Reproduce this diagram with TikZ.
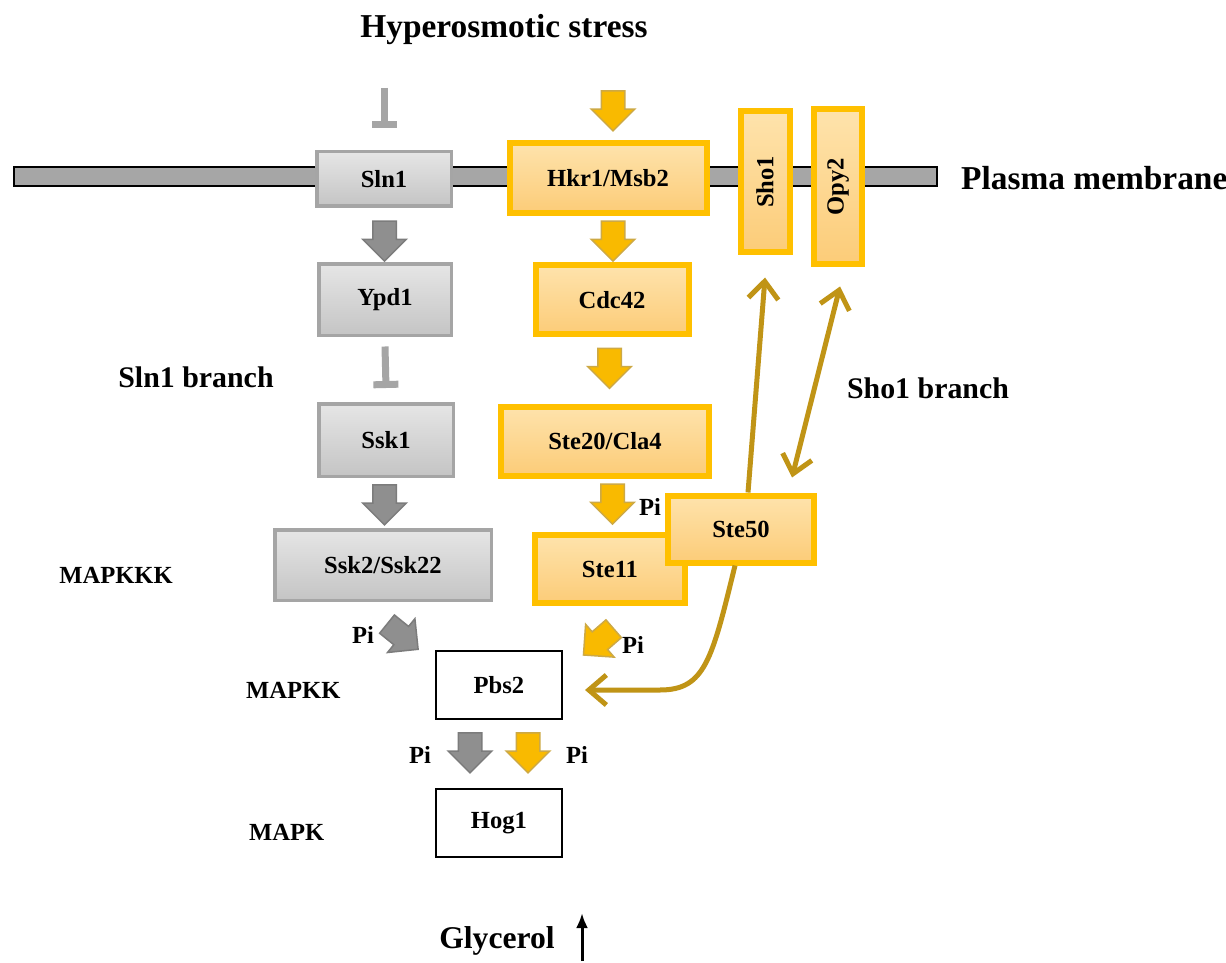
\documentclass[tikz,border=0pt]{standalone}
\usepackage{fontspec}
\setmainfont{Liberation Serif}
\usepackage{graphicx}
\usetikzlibrary{arrows.meta, positioning, calc, shapes.arrows}
\definecolor{hogGrey}{HTML}{A5A5A5}
\definecolor{hogGreyArr}{HTML}{8F8F8F}
\definecolor{hogGreyDk}{HTML}{7C7C7C}
\definecolor{hogMemb}{HTML}{A6A6A6}
\definecolor{hogGold}{HTML}{FFC000}
\definecolor{hogGoldArr}{HTML}{F9BA00}
\definecolor{hogGoldDk}{HTML}{C09416}
\definecolor{hogPaleTop}{HTML}{FEE3AC}
\definecolor{hogPaleBot}{HTML}{FCCC78}

\begin{document}
\begin{tikzpicture}[
  x=0.2mm, y=-0.2mm,
  font=\bfseries\fontsize{14}{16}\selectfont,
  >={Straight Barb[length=3.5mm, width=6mm]},
  sz/.style 2 args={minimum width=#1*0.2mm, minimum height=#2*0.2mm},
  gbox/.style={draw=hogGrey, line width=0.7mm, top color=gray!20, bottom color=gray!46,
               align=center, inner sep=0pt},
  obox/.style={draw=hogGold, line width=1.2mm, top color=hogPaleTop, bottom color=hogPaleBot,
               align=center, inner sep=0pt},
  wbox/.style={draw=black, line width=0.4mm, fill=white, inner sep=0pt},
  blk/.style={single arrow, inner xsep=0pt, inner ysep=2.2mm, minimum height=8mm,
              single arrow head extend=2mm, single arrow tip angle=90, line width=0.3mm},
  garr/.style={blk, fill=hogGreyArr, draw=hogGreyDk},
  oarr/.style={blk, fill=hogGoldArr, draw=hogGoldDk!80},
  inh/.style={draw=hogGrey, line width=1.4mm, -{Bar[width=5mm]}},
  curv/.style={draw=hogGoldDk, line width=1mm},
  big/.style={font=\bfseries\fontsize{19}{22}\selectfont},
  mid/.style={font=\bfseries\fontsize{17}{20}\selectfont},
]
\fill[white] (0,0) rectangle (1226,963);
\useasboundingbox (0,0) rectangle (1226,963);

% membrane
\draw[line width=0.5mm, fill=hogMemb] (14,167) rectangle (937,186);

\node[big] (stress) at (504,30) {Hyperosmotic stress};
\node[big, anchor=west] (pm) at (955,178) {Plasma membrane};

% Sln1 branch
\node[gbox, sz={134.5}{54.5}] (sln1) at (384,179) {Sln1};
\node[gbox, sz={132.5}{71.5}] (ypd1) at (385,300) {Ypd1};
\node[gbox, sz={134.5}{72.5}] (ssk1) at (386,440) {Ssk1};
\node[gbox, sz={216.5}{70.5}] (ssk2) at (383,565) {Ssk2/Ssk22};

% Sho1 branch
\node[obox, sz={197}{70}] (hkr1) at (608,178) {Hkr1/Msb2};
\node[obox, sz={49}{141}] (sho1) at (765,182) {\rotatebox{90}{Sho1}};
\node[obox, sz={48}{155}] (opy2) at (838,187) {\rotatebox{90}{Opy2}};
\node[obox, sz={153}{69}] (cdc42) at (612,300) {Cdc42};
\node[obox, sz={208}{69}] (ste20) at (605,441) {Ste20/Cla4};
\node[obox, sz={150}{68}] (ste11) at (610,569) {Ste11};
\node[obox, sz={146}{67}] (ste50) at (741,529) {Ste50};

% MAP kinases
\node[wbox, sz={126}{68}] (pbs2) at (499,685) {Pbs2};
\node[wbox, sz={126}{68}] (hog1) at (499,823) {Hog1};

\node[mid] (slnbr) at (196,377) {Sln1 branch};
\node[mid] (shobr) at (928,388) {Sho1 branch};
\node (mkkk) at (116,575) {MAPKKK};
\node[anchor=west] (mkk) at (240,690) {MAPKK};
\node[anchor=west] (mk) at (243,832) {MAPK};

% inhibition bars
\coordinate (inhtop) at (384,88);
\draw[inh] (inhtop) -- ($(sln1.north)+(0,-22)$);
\draw[inh] ($(ypd1.south)+(0,9)$) -- ($(ssk1.north)+(0,-14)$);

% block arrows
\node[oarr, rotate=-90] (a0) at (613,105) {};
\node[garr, rotate=-90] (a1) at ($(sln1.south)!.5!(ypd1.north)$) {};
\node[garr, rotate=-90] (a2) at ($(ssk1.south)!.5!(ssk2.north)+(0,-4)$) {};
\node[oarr, rotate=-90] (a3) at ($(hkr1.south)!.5!(cdc42.north)+(3,-4)$) {};
\node[oarr, rotate=-90] (a4) at ($(cdc42.south)!.5!(ste20.north)+(1,-8)$) {};
\node[oarr, rotate=-90] (a5) at ($(ste20.south)!.5!(ste11.north)+(5,-7)$) {};
\node[garr, rotate=-39] (a6) at (398,633) {};
\node[oarr, rotate=221] (a7) at (603,638) {};
\node[garr, rotate=-90] (a8) at ($(pbs2.south)!.5!(hog1.north)+(-29,-7)$) {};
\node[oarr, rotate=-90] (a9) at ($(pbs2.south)!.5!(hog1.north)+(29,-7)$) {};

\node (pi1) at (650,507) {Pi};
\node (pi2) at (363,635) {Pi};
\node (pi3) at (633,645) {Pi};
\node (pi4) at (420,755) {Pi};
\node (pi5) at (577,755) {Pi};

% Ste50 links
\draw[curv, ->] ($(ste50.north)+(7,0)$) -- ($(sho1.south)+(0,22)$);
\draw[curv, <->] ($(ste50.north)+(51,-15)$) -- ($(opy2.south)+(2,19)$);
\draw[curv, ->] ($(ste50.south)+(-6,0)$) .. controls +(-23,94) and +(45,0) ..
  ($(pbs2.east)+(97,5)$) -- ($(pbs2.east)+(22,5)$);

% glycerol output
\node[mid, font=\bfseries\fontsize{18}{21}\selectfont] (gly) at (497,941) {Glycerol};
\coordinate (glyA) at (582,961);
\coordinate (glyB) at (582,913);
\draw[line width=0.6mm, -{Latex[length=3mm, width=2.4mm]}] (glyA) -- (glyB);
\end{tikzpicture}
\end{document}
